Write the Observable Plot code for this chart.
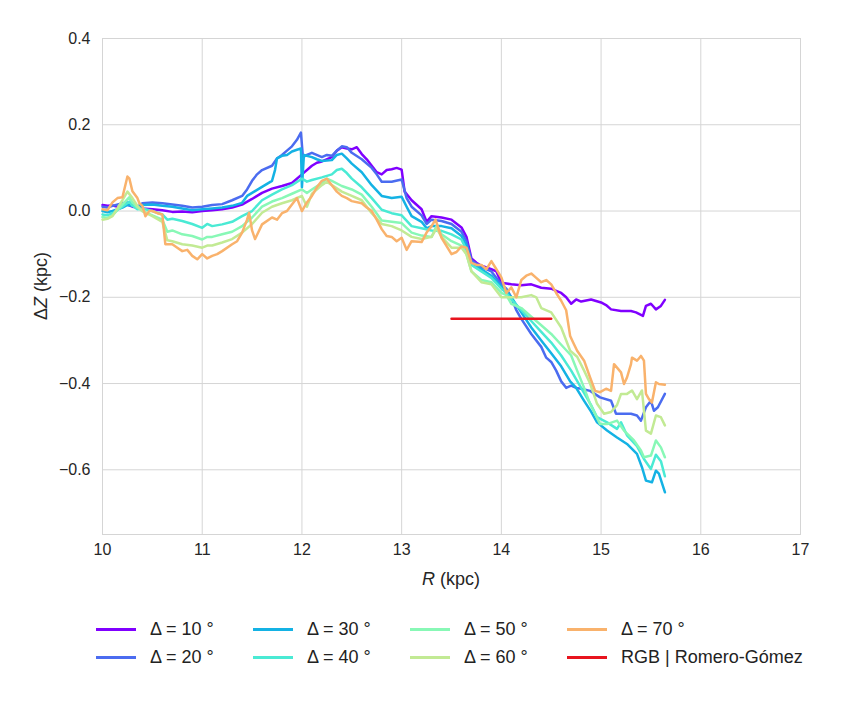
<!DOCTYPE html>
<html>
<head>
<meta charset="utf-8">
<script src="https://cdn.jsdelivr.net/npm/d3@7"></script>
<script src="https://cdn.jsdelivr.net/npm/@observablehq/plot@0.6"></script>
<style>
  html, body { margin: 0; padding: 0; background: #fff; }
  #wrap { position: relative; width: 842px; height: 704px; font-family: "Liberation Sans", Arial, sans-serif; }
  #legend { position: absolute; left: 96px; top: 619px; width: 740px; }
  .item { position: absolute; display: flex; align-items: center; font-size: 18px; color: #222; white-space: nowrap; }
  .sw { width: 40px; height: 2.6px; margin-right: 14px; }
</style>
</head>
<body>
<div id="wrap"><div id="chart"></div><div id="legend"></div></div>
<script>
const xTicks = [10, 11, 12, 13, 14, 15, 16, 17];
const yTicks = [-0.6, -0.4, -0.2, 0.0, 0.2, 0.4];

const labels = ["Δ = 10 °", "Δ = 20 °", "Δ = 30 °", "Δ = 40 °", "Δ = 50 °", "Δ = 60 °", "Δ = 70 °", "RGB | Romero-Gómez"];
const colors = ["#8000ff", "#4b6cf0", "#14b2e4", "#4aead4", "#88f8b6", "#c2ea94", "#f9b26c", "#e8141e"];

const d10 = [[10.0,0.014],[10.05,0.012],[10.1,0.013],[10.15,0.010],[10.2,0.012],[10.25,0.015],[10.3,0.010],[10.35,0.008],[10.4,0.006],[10.5,0.004],[10.6,0.002],[10.7,-0.002],[10.8,-0.001],[10.9,-0.003],[11.0,0.0],[11.1,0.002],[11.2,0.004],[11.3,0.008],[11.4,0.015],[11.5,0.028],[11.6,0.042],[11.7,0.052],[11.8,0.058],[11.9,0.065],[12.0,0.085],[12.1,0.105],[12.15,0.112],[12.2,0.115],[12.3,0.125],[12.35,0.14],[12.4,0.148],[12.45,0.145],[12.5,0.143],[12.55,0.148],[12.6,0.132],[12.65,0.12],[12.7,0.105],[12.75,0.09],[12.8,0.085],[12.85,0.095],[12.9,0.097],[12.95,0.1],[13.0,0.096],[13.03,0.045],[13.1,0.025],[13.2,0.004],[13.25,-0.025],[13.3,-0.012],[13.4,-0.015],[13.5,-0.02],[13.6,-0.038],[13.65,-0.06],[13.7,-0.11],[13.75,-0.12],[13.8,-0.127],[13.9,-0.135],[13.95,-0.14],[14.0,-0.166],[14.1,-0.17],[14.2,-0.172],[14.3,-0.17],[14.4,-0.178],[14.5,-0.18],[14.55,-0.185],[14.6,-0.19],[14.65,-0.2],[14.7,-0.215],[14.75,-0.205],[14.8,-0.21],[14.9,-0.205],[15.0,-0.212],[15.05,-0.218],[15.1,-0.228],[15.2,-0.232],[15.3,-0.232],[15.35,-0.235],[15.42,-0.243],[15.45,-0.22],[15.5,-0.215],[15.55,-0.228],[15.6,-0.22],[15.64,-0.206]];

const d20 = [[10.0,0.010],[10.05,0.008],[10.1,0.012],[10.2,0.018],[10.25,0.02],[10.3,0.016],[10.35,0.01],[10.4,0.018],[10.5,0.02],[10.6,0.018],[10.7,0.015],[10.8,0.012],[10.9,0.008],[11.0,0.01],[11.1,0.014],[11.2,0.016],[11.3,0.025],[11.4,0.035],[11.45,0.05],[11.5,0.07],[11.55,0.085],[11.6,0.095],[11.7,0.105],[11.75,0.122],[11.8,0.13],[11.85,0.14],[11.9,0.15],[11.95,0.165],[11.99,0.182],[12.01,0.125],[12.05,0.13],[12.1,0.135],[12.2,0.125],[12.25,0.13],[12.3,0.128],[12.35,0.14],[12.4,0.15],[12.45,0.148],[12.5,0.135],[12.6,0.12],[12.7,0.1],[12.75,0.085],[12.8,0.068],[12.9,0.068],[13.0,0.073],[13.05,0.03],[13.1,0.01],[13.2,-0.01],[13.25,-0.03],[13.3,-0.02],[13.4,-0.023],[13.5,-0.03],[13.6,-0.048],[13.65,-0.07],[13.7,-0.115],[13.8,-0.13],[13.9,-0.14],[14.0,-0.17],[14.05,-0.18],[14.1,-0.2],[14.15,-0.23],[14.2,-0.25],[14.3,-0.285],[14.4,-0.315],[14.45,-0.34],[14.5,-0.35],[14.55,-0.37],[14.6,-0.395],[14.65,-0.41],[14.7,-0.405],[14.75,-0.41],[14.8,-0.412],[14.89,-0.417],[14.99,-0.432],[15.1,-0.44],[15.15,-0.47],[15.3,-0.47],[15.36,-0.474],[15.4,-0.486],[15.45,-0.455],[15.5,-0.44],[15.53,-0.463],[15.57,-0.455],[15.64,-0.424]];

const d30 = [[10.0,0.0],[10.05,-0.003],[10.1,0.0],[10.2,0.008],[10.25,0.014],[10.3,0.012],[10.35,0.008],[10.4,0.014],[10.5,0.015],[10.6,0.012],[10.7,0.01],[10.8,0.006],[10.9,0.002],[11.0,0.004],[11.1,0.006],[11.2,0.008],[11.3,0.012],[11.4,0.019],[11.45,0.035],[11.5,0.042],[11.6,0.056],[11.7,0.07],[11.73,0.095],[11.75,0.122],[11.8,0.128],[11.85,0.13],[11.9,0.138],[11.95,0.142],[11.99,0.145],[12.0,0.055],[12.02,0.13],[12.1,0.125],[12.15,0.12],[12.2,0.116],[12.3,0.118],[12.35,0.13],[12.4,0.133],[12.45,0.122],[12.5,0.11],[12.6,0.09],[12.7,0.06],[12.8,0.035],[12.9,0.03],[13.0,0.033],[13.05,0.01],[13.1,-0.012],[13.2,-0.025],[13.25,-0.04],[13.3,-0.035],[13.4,-0.035],[13.5,-0.04],[13.6,-0.058],[13.65,-0.08],[13.7,-0.12],[13.8,-0.135],[13.9,-0.15],[14.0,-0.175],[14.05,-0.185],[14.1,-0.2],[14.2,-0.235],[14.3,-0.27],[14.4,-0.3],[14.5,-0.33],[14.6,-0.36],[14.69,-0.395],[14.75,-0.41],[14.83,-0.44],[14.9,-0.465],[14.96,-0.49],[15.06,-0.509],[15.16,-0.525],[15.26,-0.54],[15.36,-0.563],[15.41,-0.594],[15.45,-0.625],[15.51,-0.629],[15.55,-0.602],[15.58,-0.609],[15.64,-0.652]];

const d40 = [[10.0,-0.008],[10.05,-0.01],[10.1,-0.005],[10.2,0.01],[10.27,0.022],[10.3,0.012],[10.35,0.004],[10.4,0.006],[10.5,0.0],[10.6,-0.008],[10.65,-0.02],[10.7,-0.018],[10.8,-0.023],[10.9,-0.03],[11.0,-0.039],[11.05,-0.03],[11.1,-0.035],[11.2,-0.031],[11.3,-0.025],[11.4,-0.012],[11.5,0.0],[11.6,0.025],[11.7,0.038],[11.8,0.05],[11.9,0.06],[12.0,0.075],[12.05,0.068],[12.1,0.072],[12.2,0.078],[12.3,0.085],[12.35,0.095],[12.4,0.098],[12.45,0.088],[12.5,0.075],[12.6,0.055],[12.7,0.03],[12.8,0.003],[12.9,-0.005],[13.0,-0.01],[13.1,-0.035],[13.2,-0.04],[13.3,-0.045],[13.4,-0.046],[13.5,-0.054],[13.6,-0.066],[13.65,-0.09],[13.7,-0.125],[13.8,-0.14],[13.9,-0.155],[14.0,-0.18],[14.05,-0.19],[14.1,-0.205],[14.2,-0.23],[14.3,-0.255],[14.4,-0.28],[14.5,-0.305],[14.6,-0.335],[14.7,-0.37],[14.8,-0.41],[14.9,-0.45],[14.96,-0.478],[15.06,-0.49],[15.16,-0.505],[15.2,-0.49],[15.26,-0.52],[15.36,-0.545],[15.43,-0.575],[15.5,-0.598],[15.55,-0.565],[15.6,-0.58],[15.64,-0.615]];

const d50 = [[10.0,-0.014],[10.05,-0.016],[10.1,-0.01],[10.2,0.015],[10.27,0.032],[10.3,0.02],[10.35,0.008],[10.4,0.0],[10.5,-0.01],[10.6,-0.02],[10.65,-0.048],[10.7,-0.045],[10.8,-0.054],[10.9,-0.058],[11.0,-0.066],[11.05,-0.06],[11.1,-0.06],[11.2,-0.054],[11.3,-0.048],[11.4,-0.035],[11.5,-0.015],[11.6,0.01],[11.7,0.022],[11.8,0.03],[11.9,0.04],[12.0,0.05],[12.05,0.042],[12.1,0.05],[12.2,0.065],[12.25,0.075],[12.3,0.07],[12.4,0.058],[12.5,0.05],[12.6,0.038],[12.7,0.01],[12.8,-0.022],[12.9,-0.025],[13.0,-0.028],[13.1,-0.05],[13.2,-0.057],[13.3,-0.06],[13.35,-0.035],[13.4,-0.054],[13.5,-0.07],[13.6,-0.08],[13.65,-0.1],[13.7,-0.14],[13.8,-0.16],[13.9,-0.165],[14.0,-0.19],[14.05,-0.195],[14.1,-0.215],[14.2,-0.225],[14.3,-0.245],[14.4,-0.265],[14.5,-0.285],[14.6,-0.31],[14.7,-0.335],[14.76,-0.37],[14.83,-0.41],[14.89,-0.447],[14.99,-0.494],[15.06,-0.494],[15.16,-0.486],[15.23,-0.509],[15.33,-0.532],[15.4,-0.555],[15.43,-0.571],[15.5,-0.567],[15.55,-0.532],[15.6,-0.548],[15.64,-0.571]];

const d60 = [[10.0,-0.02],[10.05,-0.018],[10.1,-0.012],[10.2,0.025],[10.25,0.045],[10.3,0.03],[10.35,0.012],[10.4,0.0],[10.5,-0.012],[10.6,-0.025],[10.65,-0.068],[10.7,-0.07],[10.8,-0.077],[10.9,-0.08],[11.0,-0.085],[11.05,-0.08],[11.1,-0.08],[11.2,-0.073],[11.3,-0.065],[11.4,-0.05],[11.5,-0.03],[11.6,-0.004],[11.7,0.01],[11.8,0.018],[11.9,0.025],[12.0,0.035],[12.05,0.01],[12.1,0.04],[12.2,0.06],[12.25,0.068],[12.3,0.06],[12.4,0.045],[12.5,0.035],[12.6,0.025],[12.7,-0.005],[12.8,-0.03],[12.9,-0.035],[13.0,-0.045],[13.1,-0.06],[13.2,-0.065],[13.3,-0.06],[13.35,-0.04],[13.4,-0.06],[13.5,-0.085],[13.6,-0.085],[13.65,-0.1],[13.7,-0.14],[13.8,-0.165],[13.9,-0.17],[14.0,-0.2],[14.05,-0.2],[14.1,-0.2],[14.2,-0.2],[14.3,-0.195],[14.35,-0.2],[14.4,-0.225],[14.5,-0.235],[14.6,-0.27],[14.69,-0.324],[14.76,-0.338],[14.83,-0.37],[14.89,-0.4],[14.96,-0.447],[15.03,-0.47],[15.1,-0.466],[15.16,-0.45],[15.2,-0.424],[15.26,-0.424],[15.31,-0.416],[15.36,-0.436],[15.41,-0.416],[15.45,-0.509],[15.5,-0.516],[15.55,-0.474],[15.6,-0.478],[15.64,-0.497]];

const d70 = [[10.0,0.004],[10.05,0.002],[10.1,0.02],[10.15,0.03],[10.2,0.032],[10.25,0.08],[10.27,0.075],[10.3,0.046],[10.35,0.03],[10.37,0.018],[10.4,0.012],[10.43,-0.012],[10.47,0.0],[10.5,0.0],[10.55,-0.005],[10.6,-0.008],[10.63,-0.077],[10.7,-0.077],[10.75,-0.085],[10.8,-0.093],[10.85,-0.09],[10.9,-0.104],[10.95,-0.112],[11.0,-0.1],[11.05,-0.11],[11.1,-0.104],[11.15,-0.1],[11.2,-0.093],[11.3,-0.077],[11.35,-0.07],[11.4,-0.05],[11.45,-0.02],[11.47,-0.004],[11.5,-0.045],[11.53,-0.065],[11.6,-0.031],[11.7,-0.015],[11.75,-0.02],[11.8,-0.005],[11.85,0.0],[11.9,0.015],[11.95,0.03],[12.0,0.0],[12.05,0.02],[12.1,0.035],[12.15,0.055],[12.2,0.07],[12.25,0.075],[12.3,0.06],[12.35,0.045],[12.4,0.035],[12.45,0.03],[12.5,0.023],[12.6,0.018],[12.65,0.008],[12.7,0.0],[12.75,-0.02],[12.8,-0.042],[12.85,-0.058],[12.9,-0.06],[12.95,-0.07],[13.0,-0.062],[13.05,-0.09],[13.1,-0.07],[13.2,-0.072],[13.25,-0.05],[13.3,-0.035],[13.34,-0.02],[13.4,-0.062],[13.5,-0.1],[13.55,-0.095],[13.6,-0.082],[13.65,-0.085],[13.7,-0.12],[13.75,-0.125],[13.8,-0.125],[13.85,-0.135],[13.9,-0.116],[13.95,-0.135],[14.0,-0.154],[14.05,-0.19],[14.1,-0.177],[14.15,-0.2],[14.2,-0.16],[14.25,-0.15],[14.3,-0.145],[14.35,-0.155],[14.4,-0.165],[14.45,-0.16],[14.5,-0.17],[14.55,-0.19],[14.6,-0.208],[14.65,-0.23],[14.69,-0.29],[14.72,-0.305],[14.76,-0.324],[14.83,-0.347],[14.89,-0.386],[14.94,-0.417],[14.99,-0.42],[15.05,-0.412],[15.1,-0.417],[15.13,-0.355],[15.16,-0.363],[15.2,-0.374],[15.23,-0.401],[15.26,-0.386],[15.3,-0.355],[15.31,-0.34],[15.36,-0.347],[15.4,-0.336],[15.43,-0.347],[15.45,-0.424],[15.48,-0.436],[15.51,-0.444],[15.55,-0.397],[15.58,-0.401],[15.64,-0.403]];

const dRGB = [[13.5,-0.25],[14.5,-0.25]];

const series = [d10, d20, d30, d40, d50, d60, d70, dRGB];

const lineMarks = series.map((s, i) =>
  Plot.line(s, {x: d => d[0], y: d => d[1], stroke: colors[i], strokeWidth: 2.5, strokeLinejoin: "round"})
);

const svg = Plot.plot({
  width: 842,
  height: 600,
  marginLeft: 102,
  marginRight: 42,
  marginTop: 38,
  marginBottom: 66,
  style: {fontFamily: "Liberation Sans, Arial, sans-serif", fontSize: "16px", color: "#262626", background: "#fff"},
  x: {domain: [10, 17]},
  y: {domain: [-0.75, 0.4]},
  marks: [
    Plot.gridX(xTicks, {stroke: "#d5d5d5", strokeOpacity: 1, strokeWidth: 1}),
    Plot.gridY(yTicks, {stroke: "#d5d5d5", strokeOpacity: 1, strokeWidth: 1}),
    Plot.frame({stroke: "#d5d5d5"}),
    Plot.axisX(xTicks, {tickSize: 0, tickPadding: 9, label: null, tickFormat: d => String(d)}),
    Plot.axisY(yTicks, {tickSize: 0, tickPadding: 12, label: null, tickFormat: d3.format(".1f")}),
    ...lineMarks
  ]
});

const sel = d3.select(svg);
sel.selectAll("g[aria-label='x-axis tick label'], g[aria-label='y-axis tick label']")
  .attr("font-size", 16).attr("fill", "#262626");

const xl = sel.append("text")
  .attr("x", 451).attr("y", 585)
  .attr("text-anchor", "middle")
  .attr("font-size", 18).attr("fill", "#262626");
xl.append("tspan").attr("font-style", "italic").text("R");
xl.append("tspan").text(" (kpc)");

const yl = sel.append("text")
  .attr("transform", "translate(47,286) rotate(-90)")
  .attr("text-anchor", "middle")
  .attr("font-size", 18).attr("fill", "#262626");
yl.append("tspan").text("Δ");
yl.append("tspan").attr("font-style", "italic").text("Z");
yl.append("tspan").text(" (kpc)");

document.getElementById("chart").appendChild(svg);

const legend = document.getElementById("legend");
const colX = [0, 157, 314, 471];
labels.forEach((lab, i) => {
  const col = Math.floor(i / 2), row = i % 2;
  const it = document.createElement("div");
  it.className = "item";
  it.style.left = colX[col] + "px";
  it.style.top = (row * 28) + "px";
  const sw = document.createElement("span");
  sw.className = "sw";
  sw.style.background = colors[i];
  const tx = document.createElement("span");
  tx.textContent = lab;
  it.appendChild(sw);
  it.appendChild(tx);
  legend.appendChild(it);
});
</script>
</body>
</html>
